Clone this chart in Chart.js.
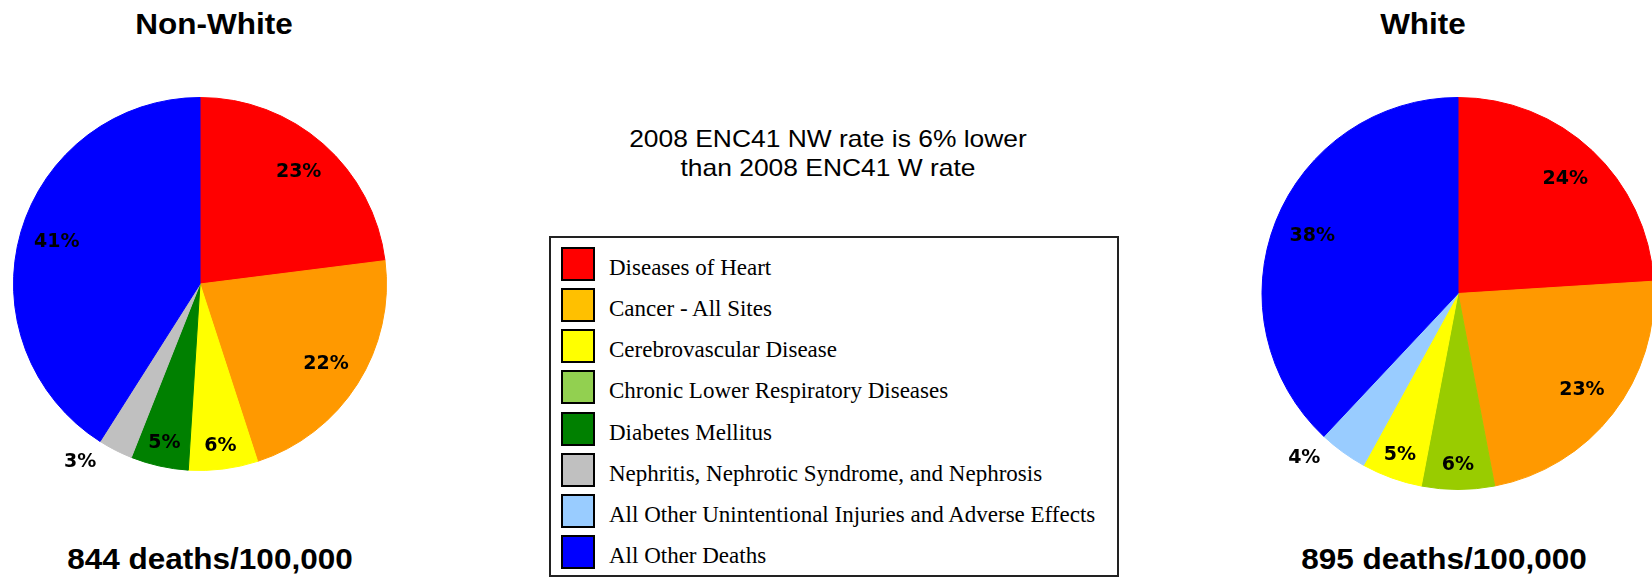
<!DOCTYPE html>
<html>
<head>
<meta charset="utf-8">
<script src="https://cdn.jsdelivr.net/npm/chart.js@4.4.1/dist/chart.umd.min.js"></script>
<style>
    html, body { margin: 0; padding: 0; background: #fff; }
    body { width: 1652px; height: 577px; position: relative; overflow: hidden; font-family: "Liberation Sans", Arial, sans-serif; color: #000; }
    .big { position: absolute; font-weight: bold; font-size: 30px; line-height: 30px; white-space: nowrap; transform: translateX(-50%) scaleX(1.05); }
    .pie { position: absolute; }
    .note { position: absolute; left: 828px; top: 124px; font-size: 24px; line-height: 29px; text-align: center; white-space: nowrap; transform: translateX(-50%) scaleX(1.1); }
    .legend { position: absolute; left: 549px; top: 236px; width: 570px; height: 341px; box-sizing: border-box; border: 2px solid #222; padding: 9px 0 0 10px; }
    .legend-row { height: 41.15px; display: flex; align-items: flex-start; }
    .legend-swatch { width: 34px; height: 34px; box-sizing: border-box; border: 2px solid #000; flex: none; }
    .legend-text { margin-left: 14px; margin-top: 4px; font-family: "Liberation Serif", "Times New Roman", serif; font-size: 23px; line-height: 34px; white-space: nowrap; }
</style>
</head>
<body>
<div class="big" id="nwTitle" style="left:214px; top:9px;"></div>
<div class="big" id="wTitle" style="left:1423px; top:9px;"></div>
<div class="pie" style="left:0; top:97px; width:400px; height:374px;"><canvas id="nonWhiteChart"></canvas></div>
<div class="pie" style="left:1260px; top:97px; width:396px; height:393px;"><canvas id="whiteChart"></canvas></div>
<div class="note" id="note"></div>
<div class="legend" id="legend"></div>
<div class="big" id="nwRate" style="left:210px; top:544px;"></div>
<div class="big" id="wRate" style="left:1444px; top:544px;"></div>
<script>
const categories = [
    'Diseases of Heart',
    'Cancer - All Sites',
    'Cerebrovascular Disease',
    'Chronic Lower Respiratory Diseases',
    'Diabetes Mellitus',
    'Nephritis, Nephrotic Syndrome, and Nephrosis',
    'All Other Unintentional Injuries and Adverse Effects',
    'All Other Deaths'
];
const legendColors = ['#FF0000', '#FFC000', '#FFFF00', '#92D050', '#008000', '#C0C0C0', '#99CCFF', '#0000FF'];
const sliceColors = ['#FF0000', '#FF9900', '#FFFF00', '#99CC00', '#008000', '#C0C0C0', '#99CCFF', '#0000FF'];

const nonWhiteLabels = ['Diseases of Heart', 'Cancer - All Sites', 'Cerebrovascular Disease', 'Diabetes Mellitus', 'Nephritis, Nephrotic Syndrome, and Nephrosis', 'All Other Deaths'];
const nonWhitePercent = [23, 22, 6, 5, 3, 41];
const whiteLabels = ['Diseases of Heart', 'Cancer - All Sites', 'Chronic Lower Respiratory Diseases', 'Cerebrovascular Disease', 'All Other Unintentional Injuries and Adverse Effects', 'All Other Deaths'];
const whitePercent = [24, 23, 6, 5, 4, 38];

const nonWhiteRate = 844;
const whiteRate = 895;
const noteLines = ['2008 ENC41 NW rate is 6% lower', 'than 2008 ENC41 W rate'];

function rateText(value) {
    return value + ' deaths/100,000';
}

document.getElementById('nwTitle').textContent = 'Non-White';
document.getElementById('wTitle').textContent = 'White';
document.getElementById('nwRate').textContent = rateText(nonWhiteRate);
document.getElementById('wRate').textContent = rateText(whiteRate);
document.getElementById('note').innerHTML = noteLines.join('<br>');

const legendBox = document.getElementById('legend');
categories.forEach(function(name, i) {
    const row = document.createElement('div');
    row.className = 'legend-row';
    const swatch = document.createElement('span');
    swatch.className = 'legend-swatch';
    swatch.style.background = legendColors[i];
    const text = document.createElement('span');
    text.className = 'legend-text';
    text.textContent = name;
    row.appendChild(swatch);
    row.appendChild(text);
    legendBox.appendChild(row);
});

// percent labels: inside for big slices, a bit further out for small ones, outside for tiny ones
const percentLabels = {
    id: 'percentLabels',
    afterDatasetsDraw(chart) {
        const ctx = chart.ctx;
        const meta = chart.getDatasetMeta(0);
        const values = chart.data.datasets[0].data;
        ctx.save();
        ctx.font = 'bold 19px "DejaVu Sans"';
        ctx.fillStyle = '#000';
        ctx.textAlign = 'center';
        ctx.textBaseline = 'middle';
        meta.data.forEach(function(arc, i) {
            const v = values[i];
            let mid = (arc.startAngle + arc.endAngle) / 2;
            let f = 0.8;
            if (v < 5) {
                f = 1.15;
                mid += 7 * Math.PI / 180;
            } else if (v < 10) {
                f = 0.875;
            }
            const r = arc.outerRadius * f;
            ctx.fillText(v + '%', arc.x + r * Math.cos(mid), arc.y + r * Math.sin(mid));
        });
        ctx.restore();
    }
};

function renderPie(canvasId, labels, values) {
    const colors = labels.map(function(name) {
        return sliceColors[categories.indexOf(name)];
    });
    new Chart(document.getElementById(canvasId), {
        type: 'pie',
        data: {
            labels: labels,
            datasets: [{
                data: values,
                backgroundColor: colors,
                borderColor: colors,
                borderWidth: 1,
                hoverOffset: 0
            }]
        },
        options: {
            responsive: true,
            maintainAspectRatio: false,
            animation: false,
            events: [],
            layout: { padding: 0 },
            plugins: {
                legend: { display: false },
                tooltip: { enabled: false }
            }
        },
        plugins: [percentLabels]
    });
}

renderPie('nonWhiteChart', nonWhiteLabels, nonWhitePercent);
renderPie('whiteChart', whiteLabels, whitePercent);
</script>
</body>
</html>
